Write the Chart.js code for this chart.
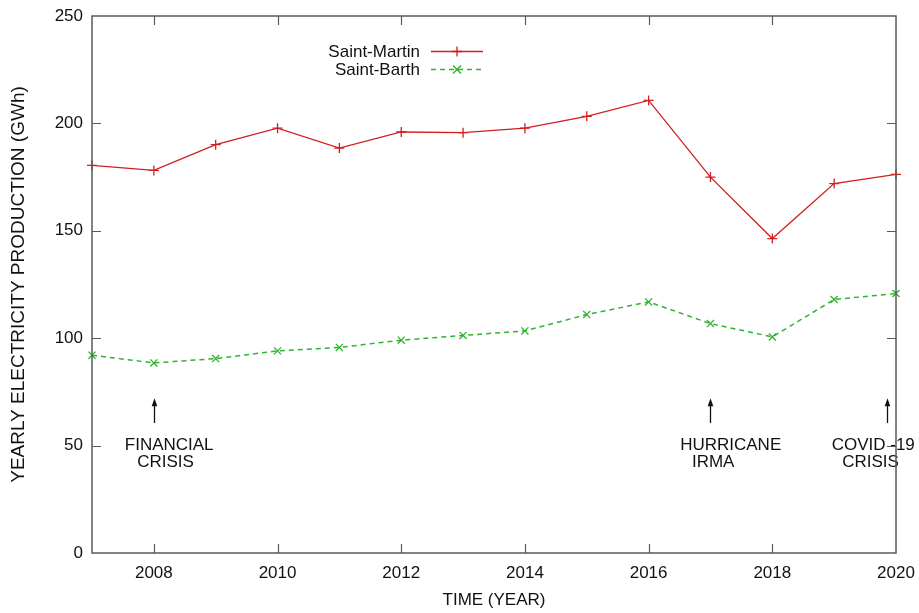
<!DOCTYPE html>
<html>
<head>
<meta charset="utf-8">
<title>Yearly electricity production</title>
<script src="https://cdn.jsdelivr.net/npm/chart.js@4.4.1/dist/chart.umd.min.js"></script>
<style>
  html, body { margin: 0; padding: 0; background: #fff; }
  #wrap { width: 919px; height: 613px; }
</style>
</head>
<body>
<div id="wrap"><canvas id="chart" width="919" height="613"></canvas></div>
<script>
// Yearly electricity production (GWh)
const years = [2007, 2008, 2009, 2010, 2011, 2012, 2013, 2014, 2015, 2016, 2017, 2018, 2019, 2020];
const saintMartin = [180.5, 178.1, 190.1, 197.8, 188.5, 196.0, 195.7, 197.8, 203.3, 210.7, 175.0, 146.4, 172.0, 176.3];
const saintBarth = [92.1, 88.5, 90.5, 94.1, 95.7, 99.1, 101.3, 103.4, 111.0, 116.9, 106.8, 100.6, 118.0, 120.8];
const xTickValues = [2008, 2010, 2012, 2014, 2016, 2018, 2020];
const yTickValues = [0, 50, 100, 150, 200, 250];

// Event markers: the year each arrow points at, and its caption lines
const eventYears = [2008, 2017, 2019.85];
const eventLabels = [['FINANCIAL', 'CRISIS'], ['HURRICANE', 'IRMA'], ['COVID -19', 'CRISIS']];

// Placement of arrows and captions, in axis units
const arrowSpan = { tip: 72, base: 60.5 };
const captionLeft = [[2007.53, 2007.73], [2016.51, 2016.70], [2018.96, 2019.13]];
const captionBaseline = [47.9, 40.0];

const FONT = "'Liberation Sans', Arial, Helvetica, sans-serif";
const FRAME_COLOR = '#5a5a5a';
const RED = '#d21e1e';
const GREEN = '#2fb42f';

const toPoints = (vals) => years.map((yr, i) => ({ x: yr, y: vals[i] }));

function drawMarker(ctx, style, x, y, r) {
  ctx.beginPath();
  if (style === 'cross') {
    ctx.moveTo(x - r, y); ctx.lineTo(x + r, y);
    ctx.moveTo(x, y - r); ctx.lineTo(x, y + r);
  } else {
    const d = r * 0.8;
    ctx.moveTo(x - d, y - d); ctx.lineTo(x + d, y + d);
    ctx.moveTo(x - d, y + d); ctx.lineTo(x + d, y - d);
  }
  ctx.stroke();
}

// Boxed frame with inward ticks on all four sides, event arrows and the legend
const decorations = {
  id: 'decorations',
  afterDraw(chart) {
    const { ctx, chartArea: a, scales: { x, y } } = chart;
    ctx.save();

    // event arrows and captions
    ctx.strokeStyle = '#111';
    ctx.fillStyle = '#111';
    ctx.lineWidth = 1.3;
    ctx.font = '17px ' + FONT;
    ctx.textAlign = 'left';
    ctx.textBaseline = 'alphabetic';
    eventYears.forEach((yr, i) => {
      const px = Math.round(x.getPixelForValue(yr)) + 0.5;
      const tip = y.getPixelForValue(arrowSpan.tip);
      const base = y.getPixelForValue(arrowSpan.base);
      ctx.beginPath();
      ctx.moveTo(px, base); ctx.lineTo(px, tip + 5);
      ctx.stroke();
      ctx.beginPath();
      ctx.moveTo(px, tip); ctx.lineTo(px - 2.8, tip + 8); ctx.lineTo(px + 2.8, tip + 8);
      ctx.closePath();
      ctx.fill();
      eventLabels[i].forEach((line, j) => {
        ctx.fillText(line, x.getPixelForValue(captionLeft[i][j]), y.getPixelForValue(captionBaseline[j]));
      });
    });

    // frame
    ctx.strokeStyle = FRAME_COLOR;
    ctx.lineWidth = 1.5;
    ctx.strokeRect(a.left, a.top, a.right - a.left, a.bottom - a.top);

    // inward ticks
    const tl = 9;
    ctx.lineWidth = 1.2;
    ctx.beginPath();
    xTickValues.forEach(v => {
      const px = Math.round(x.getPixelForValue(v)) + 0.5;
      if (px > a.left + 1 && px < a.right - 1) {
        ctx.moveTo(px, a.bottom); ctx.lineTo(px, a.bottom - tl);
        ctx.moveTo(px, a.top); ctx.lineTo(px, a.top + tl);
      }
    });
    yTickValues.forEach(v => {
      const py = Math.round(y.getPixelForValue(v)) + 0.5;
      if (py > a.top + 1 && py < a.bottom - 1) {
        ctx.moveTo(a.left, py); ctx.lineTo(a.left + tl, py);
        ctx.moveTo(a.right, py); ctx.lineTo(a.right - tl, py);
      }
    });
    ctx.stroke();

    // legend: label on the left, line sample on the right
    const textRight = 420, sampleL = 431, sampleR = 483;
    const rows = [51.5, 69.5];
    ctx.font = '17px ' + FONT;
    ctx.textAlign = 'right';
    ctx.textBaseline = 'middle';
    chart.data.datasets.forEach((ds, i) => {
      const ry = rows[i];
      ctx.fillStyle = '#111';
      ctx.fillText(ds.label, textRight, ry + 1);
      ctx.strokeStyle = ds.borderColor;
      ctx.lineWidth = ds.borderWidth;
      ctx.setLineDash(ds.borderDash || []);
      ctx.beginPath();
      ctx.moveTo(sampleL, ry); ctx.lineTo(sampleR, ry);
      ctx.stroke();
      ctx.setLineDash([]);
      drawMarker(ctx, ds.pointStyle, (sampleL + sampleR) / 2, ry, ds.pointRadius);
    });

    ctx.restore();
  }
};

new Chart(document.getElementById('chart'), {
  type: 'line',
  data: {
    datasets: [
      {
        label: 'Saint-Martin',
        data: toPoints(saintMartin),
        borderColor: RED,
        backgroundColor: RED,
        borderWidth: 1.3,
        pointStyle: 'cross',
        pointRadius: 5,
        pointBorderWidth: 1.3,
        pointBorderColor: RED,
        tension: 0,
        fill: false
      },
      {
        label: 'Saint-Barth',
        data: toPoints(saintBarth),
        borderColor: GREEN,
        backgroundColor: GREEN,
        borderWidth: 1.5,
        borderDash: [5, 4],
        pointStyle: 'crossRot',
        pointRadius: 5,
        pointBorderWidth: 1.3,
        pointBorderColor: GREEN,
        tension: 0,
        fill: false
      }
    ]
  },
  options: {
    responsive: false,
    animation: false,
    events: [],
    clip: false,
    layout: { padding: { top: 16, right: 23, left: 0, bottom: 0 } },
    plugins: {
      legend: { display: false },
      tooltip: { enabled: false }
    },
    scales: {
      x: {
        type: 'linear',
        min: 2007,
        max: 2020,
        afterBuildTicks: (s) => { s.ticks = xTickValues.map(v => ({ value: v })); },
        afterFit: (s) => { s.height = 60; s.paddingLeft = 0; s.paddingRight = 0; },
        grid: { display: false, drawTicks: false },
        border: { display: false },
        ticks: {
          font: { family: FONT, size: 17 },
          color: '#111',
          padding: 10,
          maxRotation: 0,
          autoSkip: false,
          callback: (v) => String(v)
        },
        title: {
          display: true,
          text: 'TIME (YEAR)',
          font: { family: FONT, size: 17 },
          color: '#111',
          padding: { top: 4, bottom: 2 }
        }
      },
      y: {
        min: 0,
        max: 250,
        afterBuildTicks: (s) => { s.ticks = yTickValues.map(v => ({ value: v })); },
        afterFit: (s) => { s.width = 92; s.paddingTop = 0; s.paddingBottom = 0; },
        grid: { display: false, drawTicks: false },
        border: { display: false },
        ticks: {
          font: { family: FONT, size: 17 },
          color: '#111',
          padding: 9
        },
        title: {
          display: true,
          text: 'YEARLY ELECTRICITY PRODUCTION (GWh)',
          font: { family: FONT, size: 19 },
          color: '#111',
          padding: { top: 7, bottom: 0 }
        }
      }
    }
  },
  plugins: [decorations]
});
</script>
</body>
</html>
